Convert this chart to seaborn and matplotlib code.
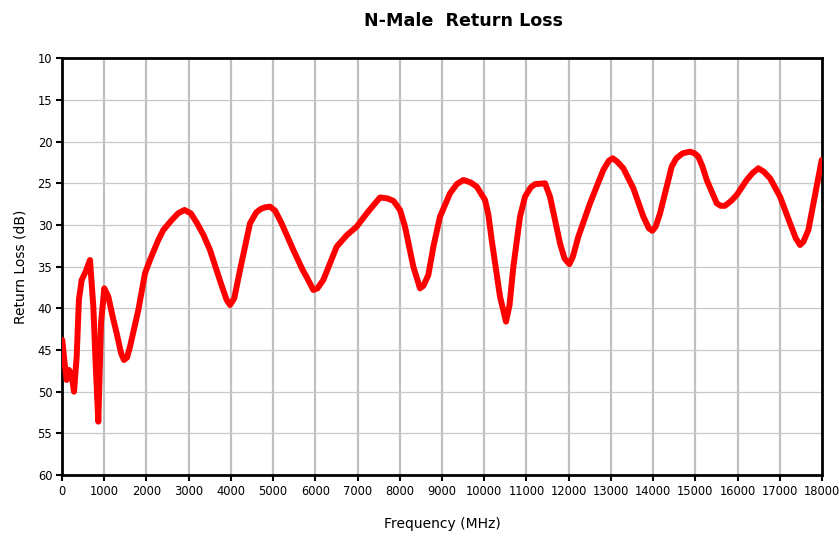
import matplotlib
matplotlib.use("Agg")
import matplotlib.pyplot as plt
import pandas as pd
import seaborn as sns

# --- Data ---
freq_mhz = [7, 60, 111, 166, 230, 284, 348, 400, 466, 560, 663, 742, 800, 860, 924,
            1002, 1097, 1200, 1295, 1400, 1468, 1540, 1611, 1808, 1966, 2084, 2281,
            2400, 2600, 2750, 2900, 3050, 3200, 3350, 3505, 3750, 3900, 3979, 4080,
            4216, 4453, 4600, 4700, 4800, 4927, 5050, 5200, 5479, 5700, 5800, 5953,
            6050, 6189, 6505, 6750, 6979, 7250, 7532, 7700, 7848, 8006, 8124, 8321,
            8479, 8560, 8676, 8800, 8953, 9190, 9350, 9506, 9680, 9822, 10019, 10100,
            10177, 10374, 10516, 10600, 10690, 10848, 10966, 11100, 11203, 11440,
            11558, 11795, 11900, 12016, 12100, 12229, 12506, 12821, 12950, 13043,
            13150, 13295, 13532, 13769, 13900, 13982, 14060, 14164, 14440, 14550,
            14700, 14875, 14980, 15071, 15170, 15270, 15507, 15600, 15700, 15850,
            15980, 16217, 16350, 16492, 16620, 16770, 17006, 17243, 17380, 17480,
            17560, 17677, 17850, 17993]
return_loss_db = [43.8, 46.5, 48.6, 47.4, 48.0, 50.0, 45.8, 39.0, 36.6, 35.6, 34.2,
                  39.8, 47.0, 53.6, 41.8, 37.6, 38.6, 41.0, 43.0, 45.4, 46.2, 45.9,
                  44.6, 40.2, 35.8, 34.2, 31.8, 30.6, 29.4, 28.6, 28.2, 28.6, 29.8,
                  31.2, 33.0, 36.8, 39.0, 39.6, 38.8, 35.4, 29.8, 28.5, 28.1, 27.9,
                  27.8, 28.3, 29.8, 33.0, 35.4, 36.3, 37.8, 37.6, 36.6, 32.6, 31.2,
                  30.2, 28.4, 26.7, 26.8, 27.1, 28.2, 30.2, 35.0, 37.6, 37.3, 36.0,
                  32.5, 29.0, 26.2, 25.1, 24.6, 24.9, 25.4, 27.0, 28.8, 31.8, 38.6,
                  41.6, 39.6, 35.0, 29.0, 26.6, 25.5, 25.1, 25.0, 26.6, 32.2, 34.0,
                  34.7, 33.8, 31.4, 27.4, 23.4, 22.3, 22.0, 22.4, 23.2, 25.6, 29.0,
                  30.4, 30.7, 30.2, 28.6, 23.0, 22.0, 21.4, 21.2, 21.4, 21.8, 23.0,
                  24.6, 27.4, 27.7, 27.7, 27.1, 26.4, 24.6, 23.8, 23.2, 23.6, 24.4,
                  26.6, 29.8, 31.6, 32.4, 32.0, 30.6, 26.0, 22.2]

x_ticks = list(range(0, 18001, 1000))
y_ticks = list(range(10, 61, 5))

df = pd.DataFrame({"Frequency (MHz)": freq_mhz, "Return Loss (dB)": return_loss_db})

# --- Plotting ---
sns.set_style("white")
plt.rcParams["font.family"] = ["DejaVu Sans"]
plt.rcParams.update({"text.color": "black", "axes.labelcolor": "black",
                     "xtick.color": "black", "ytick.color": "black"})

fig = plt.figure(figsize=(8.39, 5.36), dpi=100)
ax = fig.add_axes([62 / 839, 1 - 475 / 536, 760 / 839, 416.7 / 536])

# gridlines: vertical heavier than horizontal
for xv in x_ticks[1:-1]:
    ax.axvline(xv, color="#c0c0c0", lw=1.6, zorder=0)
for yv in y_ticks[1:-1]:
    ax.axhline(yv, color="#c8c8c8", lw=0.9, zorder=0)

sns.lineplot(data=df, x="Frequency (MHz)", y="Return Loss (dB)", sort=False,
             color="#ff0000", lw=4.3, ax=ax, zorder=3,
             solid_joinstyle="round", solid_capstyle="round")

ax.set_xlim(0, 18000)
ax.set_ylim(60, 10)
ax.set_xticks(x_ticks)
ax.set_yticks(y_ticks)
ax.tick_params(axis="both", which="both", direction="out", length=4, width=1.5,
               color="black", labelcolor="black", labelsize=8.3,
               left=True, bottom=True, pad=3)
for s in ax.spines.values():
    s.set_color("black")
    s.set_linewidth(2)
    s.set_visible(True)

ax.set_xlabel("Frequency (MHz)", fontsize=10, labelpad=14, color="black")
ax.set_ylabel("Return Loss (dB)", fontsize=10, labelpad=7, color="black")

fig.text(463 / 839, 1 - 21 / 536, "N-Male  Return Loss", ha="center", va="center",
         fontsize=12.6, fontweight="bold", color="black")

fig.savefig("out.png", dpi=100)
